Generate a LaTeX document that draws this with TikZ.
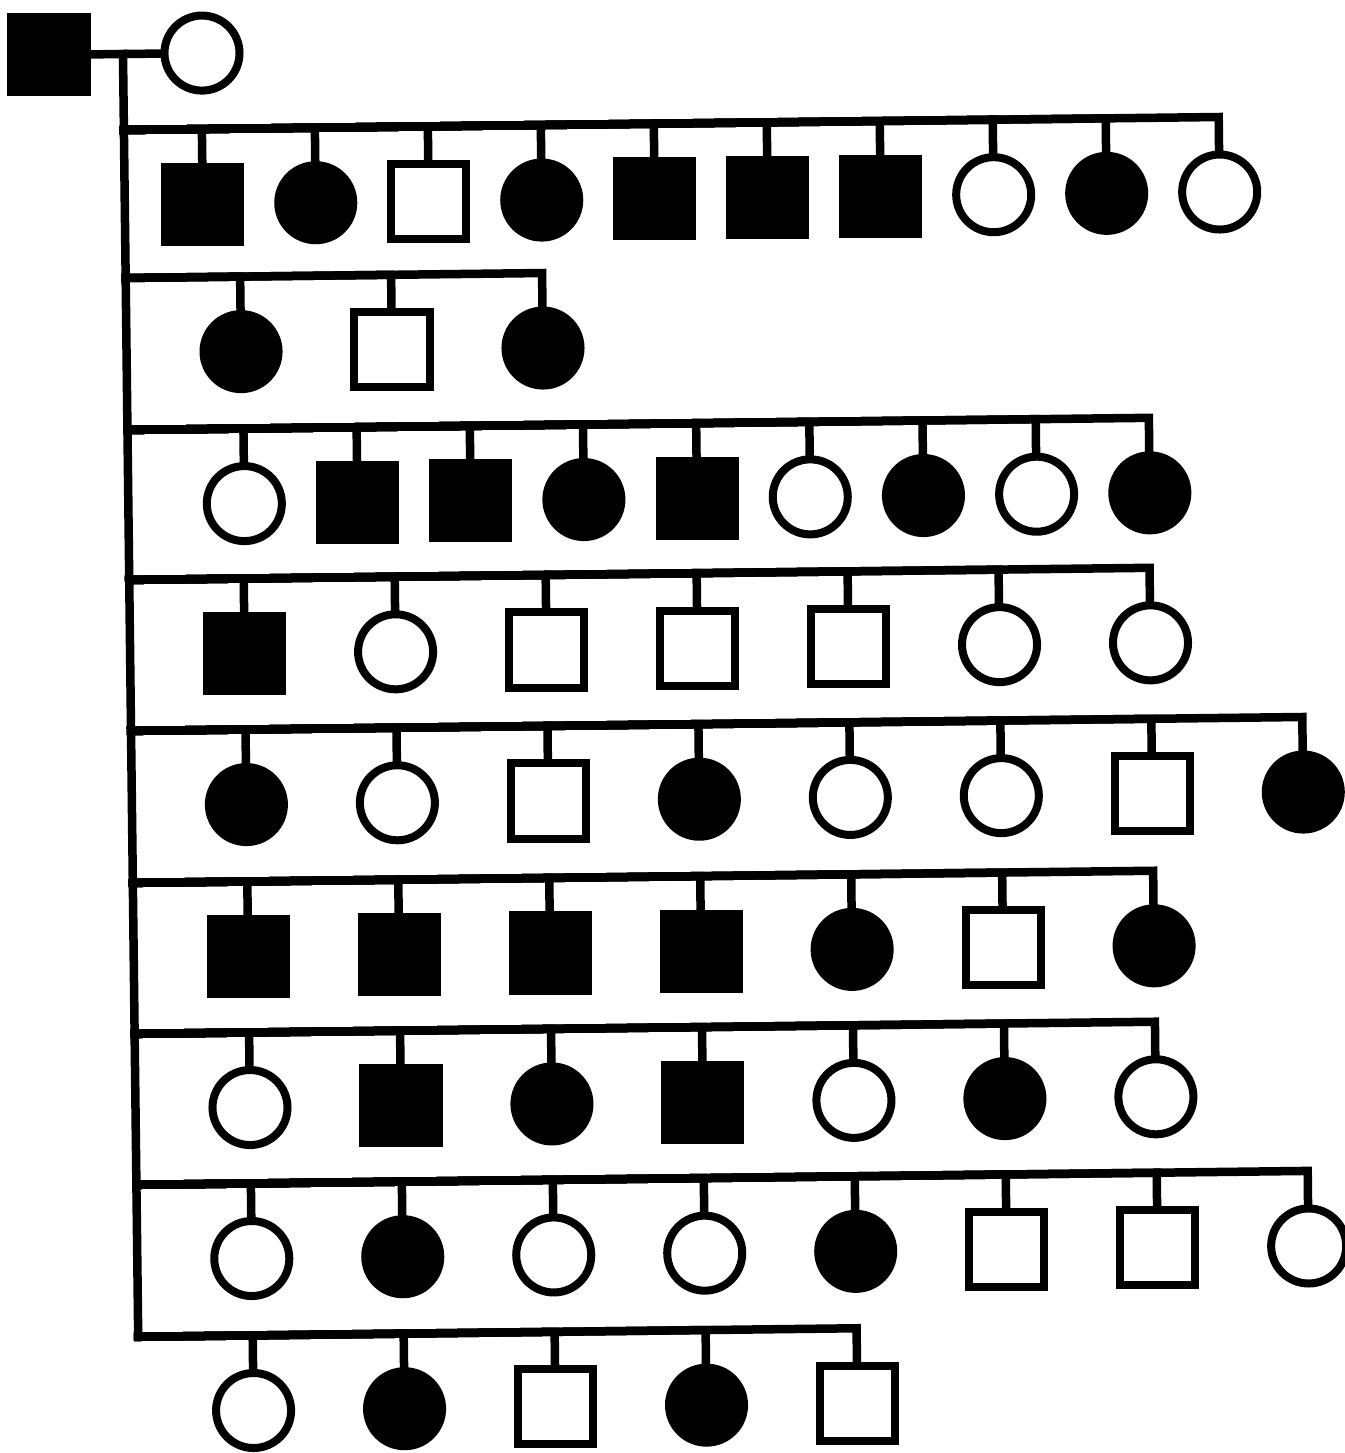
\documentclass[tikz,border=0pt]{standalone}

\tikzset{
  pedline/.style={line width=0.085cm, line cap=rect},
  maleU/.style={draw, line width=0.08cm, minimum size=0.75cm, inner sep=0pt},
  maleA/.style={maleU, fill=black},
  femU/.style={draw, circle, line width=0.08cm, minimum size=0.75cm, inner sep=0pt},
  femA/.style={femU, fill=black}
}

% one sibship: row, bar y, first x, spacing, children
\newcommand\sibship[5]{%
  \coordinate (g#1) at (0,#2);
  \foreach \kind [count=\i] in {#5} {
    \node[\kind] (c#1-\i) at ({#3+(\i-1)*#4},{#2+75}) {};
    \coordinate (b#1-\i) at ({#3+(\i-1)*#4},#2);
    \draw[pedline] (g#1) -- (b#1-\i) -- (c#1-\i);
  }%
}

\begin{document}
\begin{tikzpicture}[x=0.01cm, y=-0.01cm]
  \useasboundingbox (0,0) rectangle (1345,1453);
  \begin{scope}[shift={(123,54)}, rotate=0.68]
    \node[maleA] (dad) at (-74,0) {};
    \node[femU] (mum) at (79,0) {};
    \coordinate (m) at (0,0);
    \draw[pedline] (dad) -- (mum);

    \sibship{1}{76}{78}{113}{maleA,femA,maleU,femA,maleA,maleA,maleA,femU,femA,femU}
    \sibship{2}{224}{114.5}{151}{femA,maleU,femA}
    \sibship{3}{376}{116}{113.2}{femU,maleA,maleA,femA,maleA,femU,femA,femU,femA}
    \sibship{4}{526}{114.5}{151}{maleA,femU,maleU,maleU,maleU,femU,femU}
    \sibship{5}{677}{114.5}{151}{femA,femU,maleU,femA,femU,femU,maleU,femA}
    \sibship{6}{829}{114.5}{151}{maleA,maleA,maleA,maleA,femA,maleU,femA}
    \sibship{7}{980}{114.5}{151}{femU,maleA,femA,maleA,femU,femA,femU}
    \sibship{8}{1131}{114.5}{151}{femU,femA,femU,femU,femA,maleU,maleU,femU}
    \sibship{9}{1283}{114.5}{151}{femU,femA,maleU,femA,maleU}

    \draw[pedline] (m) -- (g9);
  \end{scope}
\end{tikzpicture}
\end{document}
